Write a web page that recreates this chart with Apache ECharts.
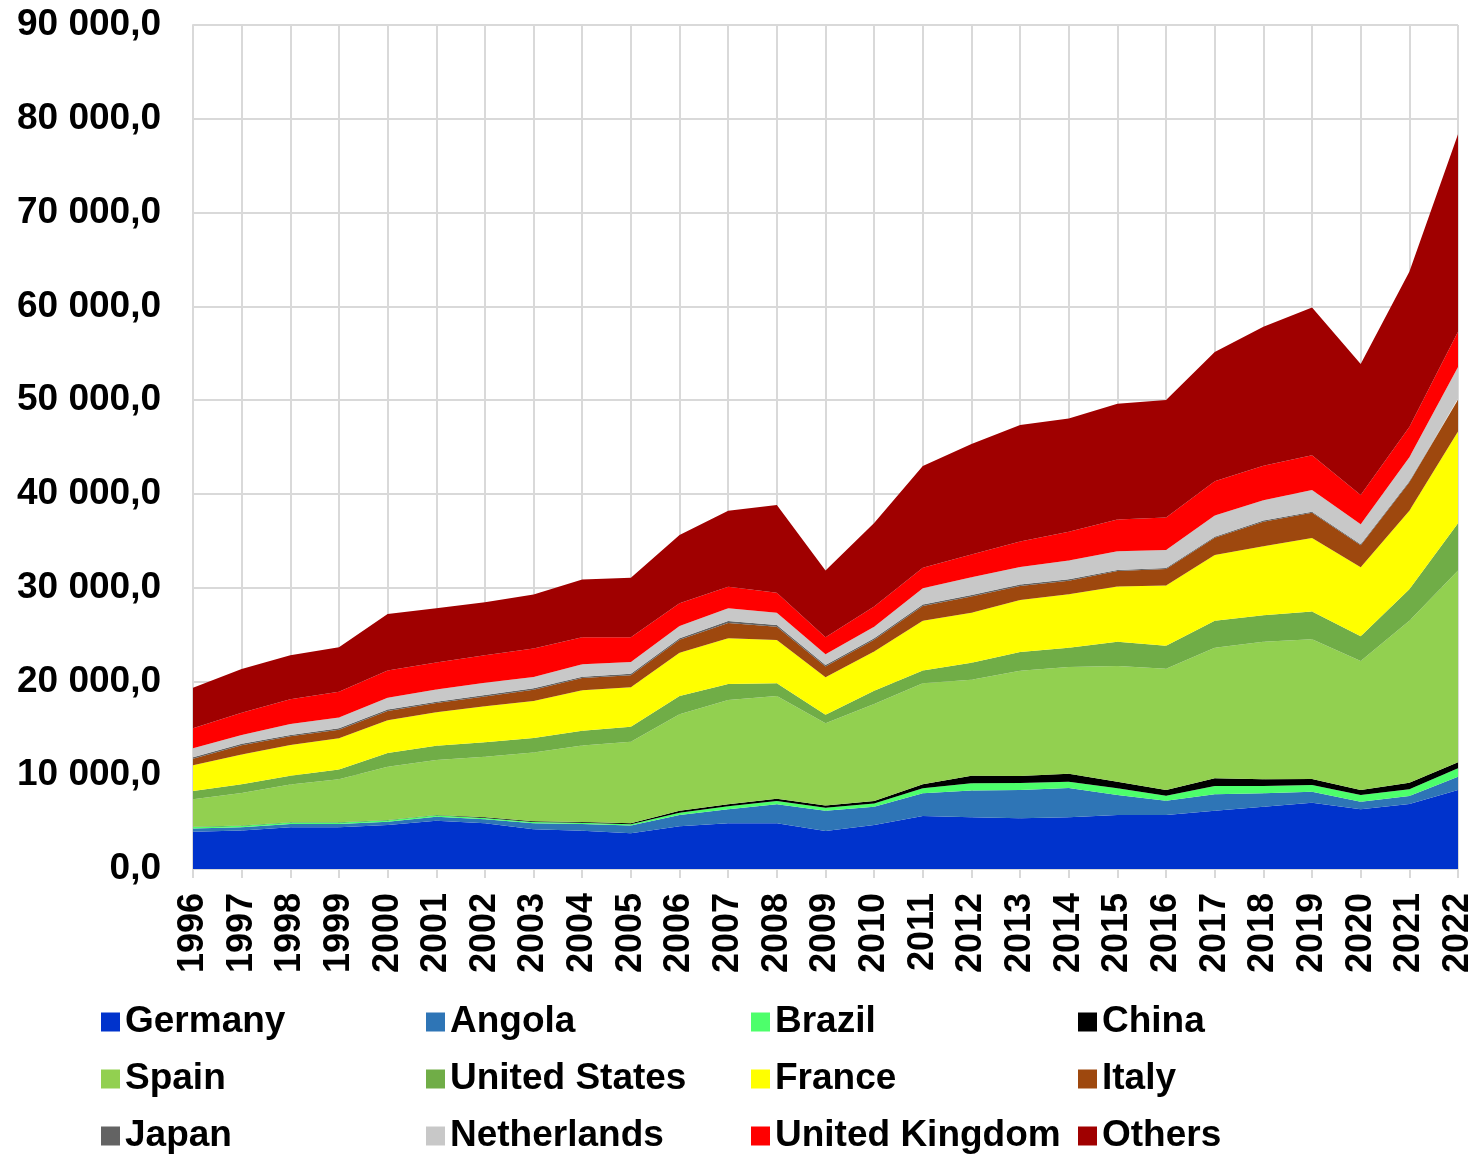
<!DOCTYPE html>
<html>
<head>
<meta charset="utf-8">
<script src="https://cdn.jsdelivr.net/npm/echarts@6/dist/echarts.min.js"></script>
<style>
html,body{margin:0;padding:0;background:#fff;}
#chart{width:1479px;height:1157px;}
</style>
</head>
<body>
<div id="chart"></div>
<script>
const years = ['1996','1997','1998','1999','2000','2001','2002','2003','2004','2005','2006','2007','2008','2009','2010','2011','2012','2013','2014','2015','2016','2017','2018','2019','2020','2021','2022'];
const germany = [3980,4100,4450,4450,4700,5150,4870,4230,4090,3800,4550,4870,4870,4050,4690,5650,5510,5400,5510,5760,5760,6220,6640,7070,6360,6930,8420];
const angola = [350,350,350,350,350,430,430,640,710,850,1210,1510,2030,2170,1950,2420,2870,3020,3140,2130,1530,1740,1430,1180,820,850,1430];
const brazil = [150,150,150,150,150,150,150,150,130,120,240,300,350,300,350,530,760,740,660,710,530,890,780,710,710,720,890];
const china = [30,30,30,30,30,30,60,80,80,100,200,230,250,250,250,440,810,770,840,710,600,820,710,640,530,700,640];
const spain = [2930,3470,4020,4580,5680,5860,6470,7320,8160,8690,10300,11110,10950,8770,10360,10760,10240,11200,11380,12330,12940,13930,14660,14900,13750,17260,20440];
const unitedStates = [880,930,940,1040,1460,1510,1540,1560,1580,1600,1950,1710,1350,920,1400,1380,1810,2010,2070,2580,2440,2860,2850,2960,2650,3380,5050];
const france = [2740,3170,3280,3330,3500,3590,3840,3940,4300,4220,4620,4870,4620,3980,4200,5300,5330,5540,5700,5910,6420,7020,7350,7840,7360,8360,9780];
const italy = [700,1000,930,920,990,970,1040,1200,1310,1280,1380,1640,1400,1160,1250,1570,1740,1500,1450,1640,1760,1840,2620,2680,2330,3030,3400];
const japan = [150,150,150,150,150,150,150,150,150,150,150,200,200,150,150,150,150,150,150,120,120,120,120,120,120,120,120];
const netherlands = [960,950,1150,1150,1240,1300,1300,1210,1330,1270,1310,1360,1310,1160,1240,1730,1880,1870,2000,2000,1920,2250,2170,2320,2130,2550,3360];
const unitedKingdom = [2130,2370,2640,2760,2930,2880,2940,3020,2860,2640,2420,2300,2130,1810,2160,2200,2430,2720,3050,3390,3460,3670,3670,3700,3110,3220,3770];
const others = [4330,4670,4710,4730,6010,5780,5660,5770,6160,6350,7290,8110,9350,7110,8900,10840,11790,12430,12080,12340,12540,13770,14830,15760,13970,16570,21040];

const yTicks = [0,10000,20000,30000,40000,50000,60000,70000,80000,90000];

const seriesDefs = [
  ['Germany', germany, '#0033CC'],
  ['Angola', angola, '#2E75B6'],
  ['Brazil', brazil, '#4DFF6B'],
  ['China', china, '#000000'],
  ['Spain', spain, '#92D050'],
  ['United States', unitedStates, '#70AD47'],
  ['France', france, '#FFFF00'],
  ['Italy', italy, '#9E480E'],
  ['Japan', japan, '#636363'],
  ['Netherlands', netherlands, '#C8C8C8'],
  ['United Kingdom', unitedKingdom, '#FF0000'],
  ['Others', others, '#A00000']
];

function fmt(v){
  const s = String(Math.round(v));
  return s.replace(/\B(?=(\d{3})+(?!\d))/g, ' ') + ',0';
}

const font = 'Liberation Sans, Arial, sans-serif';
const legendCommon = {
  orient: 'vertical', top: 1002, padding: 0, itemGap: 17,
  itemWidth: 19, itemHeight: 19, icon: 'rect', selectedMode: false,
  textStyle: {fontSize: 37, fontWeight: 'bold', fontFamily: font, color: '#000', lineHeight: 40}
};

const chart = echarts.init(document.getElementById('chart'), null, {renderer: 'canvas'});
chart.setOption({
  animation: false,
  backgroundColor: '#fff',
  grid: {left: 193, right: 21, top: 25, bottom: 288, containLabel: false},
  legend: [
    Object.assign({left: 101, data: ['Germany','Spain','Japan']}, legendCommon),
    Object.assign({left: 426, data: ['Angola','United States','Netherlands']}, legendCommon),
    Object.assign({left: 751, data: ['Brazil','France','United Kingdom']}, legendCommon),
    Object.assign({left: 1078, data: ['China','Italy','Others']}, legendCommon)
  ],
  xAxis: {
    type: 'category', data: years, boundaryGap: false,
    axisLine: {show: true, lineStyle: {color: '#d9d9d9', width: 2}},
    axisTick: {show: true, length: 9, lineStyle: {color: '#d9d9d9', width: 2}},
    splitLine: {show: true, lineStyle: {color: '#d9d9d9', width: 2}},
    axisLabel: {rotate: 90, margin: 24, fontSize: 36, fontWeight: 'bold', fontFamily: font, color: '#000', interval: 0}
  },
  yAxis: {
    type: 'value', min: yTicks[0], max: yTicks[yTicks.length-1], interval: 10000,
    axisLine: {show: true, lineStyle: {color: '#d9d9d9', width: 2}},
    axisTick: {show: false},
    splitLine: {show: true, lineStyle: {color: '#d9d9d9', width: 2}},
    axisLabel: {margin: 32, fontSize: 37, fontWeight: 'bold', fontFamily: font, color: '#000', formatter: fmt}
  },
  series: seriesDefs.map(([name, data, color]) => ({
    name, type: 'line', stack: 'total', data,
    symbol: 'none', showSymbol: false,
    color,
    itemStyle: {color},
    lineStyle: {width: 0, color},
    areaStyle: {color, opacity: 1}
  }))
});
</script>
</body>
</html>
